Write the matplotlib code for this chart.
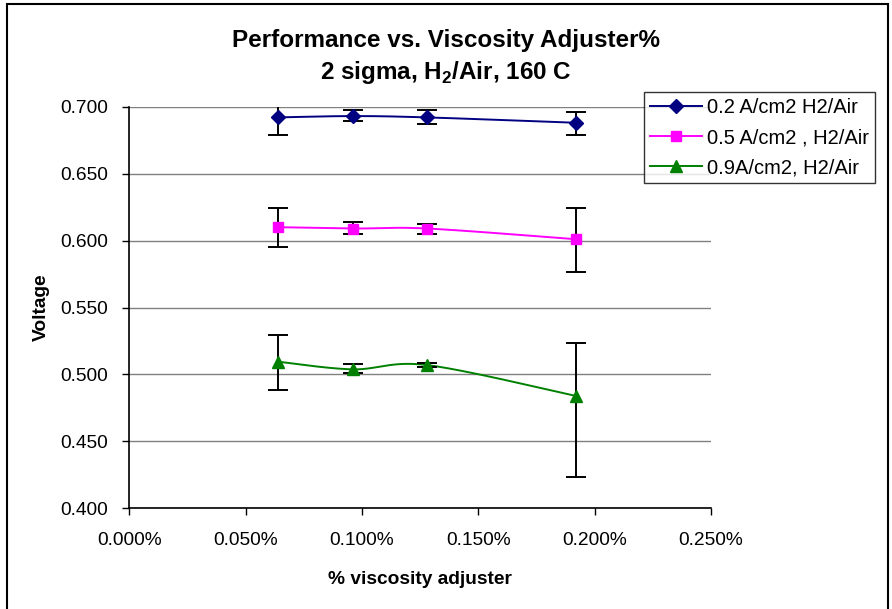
import numpy as np
import matplotlib
matplotlib.use("Agg")
import matplotlib.pyplot as plt
from matplotlib.lines import Line2D
from matplotlib.patches import Rectangle
from matplotlib.ticker import FuncFormatter

plt.rcParams['font.family'] = ['Liberation Sans', 'DejaVu Sans']
plt.rcParams['mathtext.fontset'] = 'custom'
plt.rcParams['mathtext.rm'] = 'Liberation Sans'
plt.rcParams['mathtext.bf'] = 'Liberation Sans:bold'

# ---- data ----
x_pct = [0.064, 0.096, 0.128, 0.192]

labels = ["0.2 A/cm2 H2/Air", "0.5 A/cm2 , H2/Air", "0.9A/cm2, H2/Air"]

v_02 = [0.692, 0.693, 0.692, 0.688]
hi_02 = [0.011, 0.0045, 0.0057, 0.008]
lo_02 = [0.013, 0.0037, 0.0048, 0.0093]

v_05 = [0.610, 0.609, 0.609, 0.601]
hi_05 = [0.0143, 0.0046, 0.0034, 0.0233]
lo_05 = [0.0150, 0.0039, 0.0040, 0.0245]

v_09 = [0.5095, 0.5038, 0.507, 0.4839]
hi_09 = [0.0200, 0.0038, 0.0012, 0.0396]
lo_09 = [0.0209, 0.0028, 0.0012, 0.0603]

colors = ['#000080', '#FF00FF', '#008000']
markers = ['D', 's', '^']
msizes = [7.5, 7.5, 9]

xticks = [0.000, 0.050, 0.100, 0.150, 0.200, 0.250]
yticks = [0.400, 0.450, 0.500, 0.550, 0.600, 0.650, 0.700]


def smooth(xs, ys, n=50):
    pts = np.column_stack([xs, ys]).astype(float)
    P = np.vstack([pts[0], pts, pts[-1]])
    out = []
    t = np.linspace(0, 1, n)[:, None]
    for i in range(1, len(P) - 2):
        p0, p1, p2, p3 = P[i - 1], P[i], P[i + 1], P[i + 2]
        c1 = p1 + (p2 - p0) / 6.0
        c2 = p2 - (p3 - p1) / 6.0
        seg = ((1 - t) ** 3) * p1 + 3 * ((1 - t) ** 2) * t * c1 + 3 * (1 - t) * (t ** 2) * c2 + (t ** 3) * p2
        out.append(seg)
    return np.vstack(out)


fig = plt.figure(figsize=(8.92, 6.09), dpi=100)
ax = fig.add_axes([129.3 / 892, 1 - 508.3 / 609, (711 - 129.3) / 892, (508.3 - 106.7) / 609])

series = [(v_02, lo_02, hi_02), (v_05, lo_05, hi_05), (v_09, lo_09, hi_09)]
handles = []
for (vals, lo, hi), c, m, ms, lab in zip(series, colors, markers, msizes, labels):
    curve = smooth(x_pct, vals)
    ax.plot(curve[:, 0], curve[:, 1], color=c, lw=1.4, zorder=3)
    ax.errorbar(x_pct, vals, yerr=[lo, hi], fmt='none', ecolor='black',
                elinewidth=1.4, capsize=7, capthick=1.4, zorder=4)
    ax.plot(x_pct, vals, linestyle='none', marker=m, markersize=ms, color=c,
            markeredgecolor=c, zorder=5)
    handles.append(Line2D([0], [0], color=c, lw=1.4, marker=m, markersize=ms - 0.5,
                          markeredgecolor=c))

ax.set_xlim(0, 0.25)
ax.set_ylim(0.4, 0.7)
ax.set_xticks(xticks)
ax.set_yticks(yticks)
ax.xaxis.set_major_formatter(FuncFormatter(lambda v, p: f"{v:.3f}%"))
ax.yaxis.set_major_formatter(FuncFormatter(lambda v, p: f"{v:.3f}"))
ax.tick_params(axis='both', direction='out', length=5, width=1, labelsize=13.8, colors='black')
ax.tick_params(axis='x', pad=12)
ax.tick_params(axis='y', pad=10)
ax.grid(axis='y', color='#808080', lw=1)
ax.set_axisbelow(True)
for s in ['top', 'right']:
    ax.spines[s].set_visible(False)
for s in ['left', 'bottom']:
    ax.spines[s].set_color('black')
    ax.spines[s].set_linewidth(1.2)

ax.set_xlabel('% viscosity adjuster', fontsize=13.8, fontweight='bold', labelpad=16)
ax.set_ylabel('Voltage', fontsize=13.8, fontweight='bold', labelpad=8)

fig.text(0.5, 1 - 41 / 609, 'Performance vs. Viscosity Adjuster%', ha='center', va='center',
         fontsize=17.5, fontweight='bold')
fig.text(0.5, 1 - 73 / 609, r'2 sigma, H$_\mathbf{2}$/Air, 160 C', ha='center', va='center',
         fontsize=17.5, fontweight='bold')

leg = fig.legend(handles, labels, loc='upper left', bbox_to_anchor=(644 / 892, 1 - 92 / 609),
                 frameon=True, fancybox=False, edgecolor='black', fontsize=14.5,
                 handlelength=2.6, handletextpad=0.25, borderpad=0.3, labelspacing=0.55,
                 borderaxespad=0)
leg.get_frame().set_linewidth(1.0)

fig.patches.append(Rectangle((7 / 892, -0.02), (888 - 7) / 892, 1.02 - 4 / 609,
                             transform=fig.transFigure, fill=False, edgecolor='black', lw=1.5))

fig.savefig('out.png', dpi=100)
